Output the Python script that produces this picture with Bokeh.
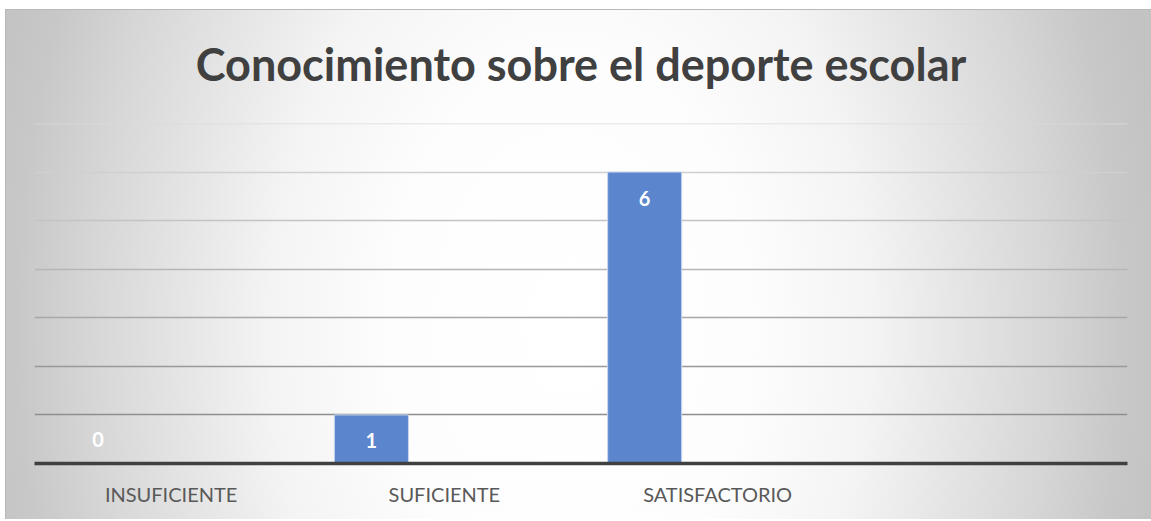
from bokeh.plotting import figure
from bokeh.models import ColumnDataSource, FactorRange, Range1d
from bokeh.transform import dodge
from bokeh.core.properties import value
from bokeh.embed import file_html
from bokeh.resources import INLINE

# ---- data ----
categories = ["INSUFICIENTE", "SUFICIENTE", "SATISFACTORIO", " "]
bar_categories = ["INSUFICIENTE", "SUFICIENTE", "SATISFACTORIO"]
counts = [0, 1, 6]
label_texts = [str(v) for v in counts]
title_text = "Conocimiento sobre el deporte escolar"
grid_levels = [1, 2, 3, 4, 5, 6, 7]
grid_colors = ["#8e8e8e", "#999999", "#a8a8a8", "#b6b6b6", "#c4c4c4", "#d0d0d0", "#dadada"]

label_offsets = [-24 if v == 0 else 26 for v in counts]
source = ColumnDataSource(dict(cat=bar_categories, val=counts, txt=label_texts, off=label_offsets))

bg = ", ".join([
    "linear-gradient(#ffffff, #ffffff) 0 0 / 100% 9px no-repeat",
    "linear-gradient(#b9b9b9, #b9b9b9) 0 9px / 100% 1px no-repeat",
    "linear-gradient(#b9b9b9, #b9b9b9) 0 9px / 1px 100% no-repeat",
    "radial-gradient(ellipse 600px 900px at 565px 330px, #ffffff 0%, #fdfdfd 30%, #f4f4f4 50%, #e3e3e3 67%, #d6d6d6 80%, #c8c8c8 92%, #c3c3c3 100%)",
])

p = figure(
    width=1146, height=519,
    x_range=FactorRange(factors=categories, range_padding=0),
    y_range=Range1d(0, 7),
    output_backend="svg", toolbar_location=None,
    min_border_left=29, min_border_right=24, min_border_top=123, min_border_bottom=56,
    margin=(0, 0, 0, 5),
    styles={"background": bg},
)
p.background_fill_color = None
p.border_fill_color = None
p.outline_line_color = None

p.title.text = title_text
p.title.align = "center"
p.title.text_font = "Lato"
p.title.text_font_style = "bold"
p.title.text_font_size = "45px"
p.title.text_color = "#404040"
p.title.standoff = 66

p.xgrid.visible = False
p.ygrid.visible = False
p.yaxis.visible = False

for lvl, col in zip(grid_levels, grid_colors):
    p.hspan(y=[lvl], line_color=col, line_width=1.3)

p.vbar(x=dodge("cat", -0.267, range=p.x_range), top="val", width=0.271, bottom=0,
       source=source, fill_color="#5B86CD", line_color="#c9d6ee", line_width=1)

p.text(x=dodge("cat", -0.267, range=p.x_range), y="val", text="txt", y_offset="off",
       source=source, text_align="center", text_baseline="middle",
       text_font=value("Lato"), text_font_style="bold", text_font_size="20px",
       text_color="#ffffff")

ax = p.xaxis[0]
ax.axis_line_color = "#404040"
ax.axis_line_width = 3.5
ax.major_tick_line_color = None
ax.minor_tick_line_color = None
ax.major_label_text_font = "Lato"
ax.major_label_text_font_size = "20px"
ax.major_label_text_color = "#595959"
ax.major_label_standoff = 12

open("out.html", "w").write(file_html(p, INLINE))
